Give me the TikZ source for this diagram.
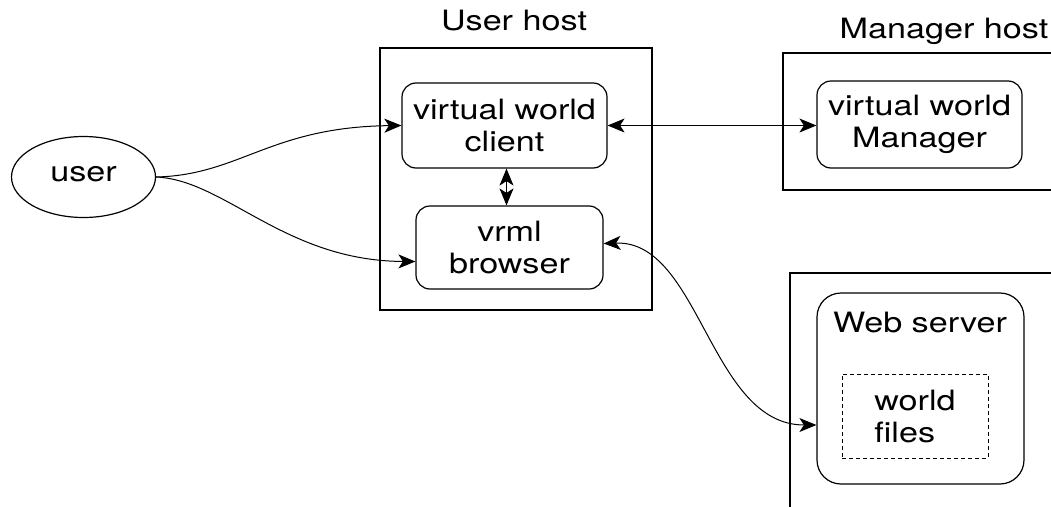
\documentclass[tikz,border=0pt]{standalone}
\usepackage{fontspec}
\setmainfont{TeX Gyre Heros}
\usetikzlibrary{arrows.meta,shapes.geometric}
% widened sans text
\newcommand\wtext[1]{\scalebox{1.22}[1]{#1}}
\tikzset{
  lbl/.style={font=\fontsize{28}{32}\selectfont, inner sep=0pt},
  host/.style={draw, line width=1.6pt, inner sep=0pt},
  proc/.style={draw, line width=1.2pt, rounded corners=14pt, align=center,
    inner sep=0pt, font=\fontsize{28}{32}\selectfont},
  actor/.style={draw, ellipse, line width=1.2pt, inner sep=0pt,
    font=\fontsize{28}{32}\selectfont},
  store/.style={draw, dash pattern=on 4pt off 3pt, line width=0.9pt, align=left,
    inner sep=0pt, font=\fontsize{28}{32}\selectfont},
  headtip/.tip={Stealth[length=17pt,width=14pt,inset=4.5pt]},
  link/.style={line width=1pt, -headtip},
  bilink/.style={line width=1pt, headtip-headtip},
}
\begin{document}
\begin{tikzpicture}[x=1pt,y=-1pt]
\useasboundingbox (0,0) rectangle (1051,506);
\clip (0,0) rectangle (1051,506);

% host machines
\node[host, minimum width=272pt, minimum height=262pt] (userhost) at (516,179) {};
\node[host, minimum width=290pt, minimum height=137pt] (mgrhost) at (928,121.5) {};
\node[host, minimum width=290pt, minimum height=260pt] (webhost) at (935,403) {};

\node[lbl, anchor=base] (userhostlbl) at (514,30) {\wtext{User host}};
\node[lbl, anchor=base] (mgrhostlbl) at (944,38) {\wtext{Manager host}};

% processes
\node[actor, minimum width=144pt, minimum height=81pt] (user) at (83.5,177) {\raisebox{7pt}{\wtext{user}}};
\node[proc, minimum width=205pt, minimum height=85pt] (client) at (504.5,125.5)
  {\wtext{virtual world}\\\wtext{client}};
\node[proc, minimum width=187pt, minimum height=83pt] (browser) at (509.5,247.5)
  {\wtext{vrml}\\\wtext{browser}};
\node[proc, minimum width=205pt, minimum height=87pt] (manager) at (919.5,124.5)
  {\wtext{virtual world}\\\wtext{Manager}};
\node[proc, rounded corners=24pt, minimum width=207pt, minimum height=191pt] (webserver) at (920.5,388.5) {};
\node[lbl, anchor=base] (weblbl) at (920,332) {\wtext{Web server}};
\node[store, minimum width=146pt, minimum height=84pt] (files) at (915,416)
  {\wtext{world}\\\wtext{files}};

% connections
\draw[link] (user.east) .. controls (240,175) and (270,127) .. (client.west);
\draw[link] (user.east) .. controls (225,180) and (285,261) .. ([yshift=-14pt]browser.west);
\draw[bilink] ([xshift=2pt]client.south) -- ([xshift=2pt]client.south |- browser.north);
\draw[bilink] (client.east) -- (client.east -| manager.west);
\draw[bilink] ([yshift=4pt]browser.east) .. controls (700,240) and (710,425) .. ([yshift=-36.5pt]webserver.west);
\end{tikzpicture}
\end{document}
